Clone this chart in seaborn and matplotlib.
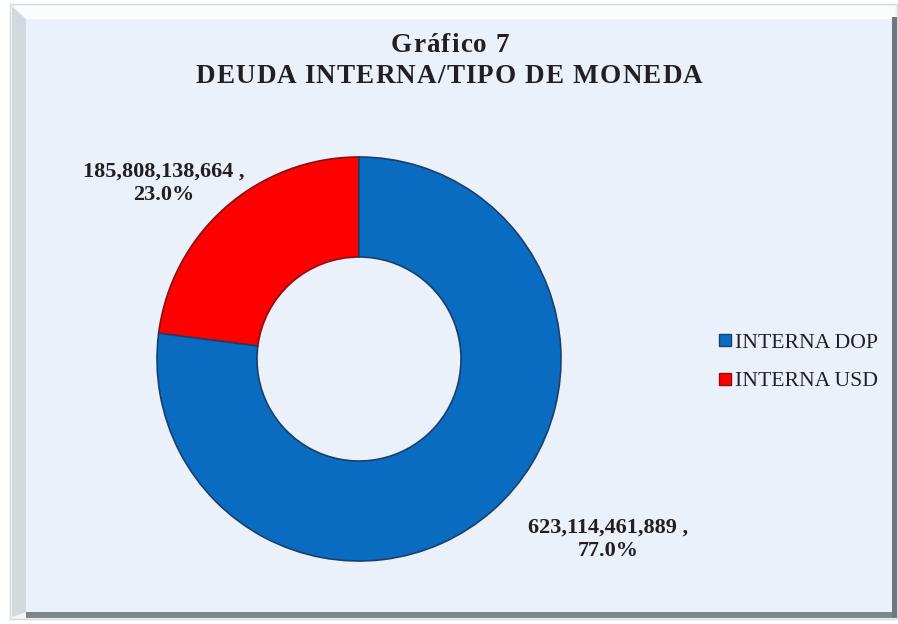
import matplotlib
matplotlib.use("Agg")
import matplotlib.pyplot as plt
from matplotlib.patches import Rectangle, Polygon
from matplotlib.lines import Line2D
from matplotlib.font_manager import FontProperties
import seaborn as sns

# Deuda interna por tipo de moneda
categories = ["INTERNA USD", "INTERNA DOP"]
values = [185808138664, 623114461889]
legend_order = ["INTERNA DOP", "INTERNA USD"]
title_lines = ["Gráfico 7", "DEUDA INTERNA/TIPO DE MONEDA"]

sns.set_theme(style="white")
plt.rcParams["font.family"] = ["Liberation Serif", "DejaVu Serif"]

W, H = 898, 624
fig = plt.figure(figsize=(W / 100, H / 100), dpi=100)
fig.patch.set_facecolor("white")
renderer = fig.canvas.get_renderer()


def fx(x):
    return x / W


def fy(y):
    return 1 - y / H


def rect(x0, y0, x1, y1, **kw):
    fig.add_artist(Rectangle((fx(x0), fy(y1)), fx(x1) - fx(x0), fy(y0) - fy(y1),
                             transform=fig.transFigure, zorder=-10, **kw))


def tracked_text(s, xc, y, size, spacing, **kw):
    """Draw a centred line of bold text with extra space between letters."""
    fp = FontProperties(family=["Liberation Serif"], weight="bold", size=size)
    ref = renderer.get_text_width_height_descent("|", fp, ismath=False)[0]
    offs = []
    for i in range(len(s)):
        w = renderer.get_text_width_height_descent(s[:i] + "|", fp, ismath=False)[0] - ref
        offs.append(w + i * spacing)
    total = renderer.get_text_width_height_descent(s, fp, ismath=False)[0] + (len(s) - 1) * spacing
    x0 = xc - total / 2
    for ch, o in zip(s, offs):
        if ch != " ":
            fig.text(fx(x0 + o), fy(y), ch, fontproperties=fp, ha="left", va="baseline", **kw)


# bevelled frame
rect(10, 4, 897, 619, facecolor="#F4F6F8", edgecolor="#D6DADE", linewidth=1.0)
fig.add_artist(Polygon([(fx(12), fy(6)), (fx(26), fy(19)), (fx(26), fy(612)), (fx(12), fy(617))],
                       closed=True, transform=fig.transFigure, facecolor="#D3D9DF",
                       edgecolor="none", zorder=-9))
rect(20, 19, 26, 612, facecolor="#A3ADB7", edgecolor="none")
rect(12, 6, 895, 19, facecolor="#FBFCFD", edgecolor="none")
rect(26, 612, 897, 618, facecolor="#7D858D", edgecolor="none")
rect(892, 17, 897, 618, facecolor="#6F7880", edgecolor="none")
rect(26, 19, 892, 612, facecolor="#EAF1FB", edgecolor="none")

ax = fig.add_axes([0, 0, 1, 1])
ax.patch.set_visible(False)

colors = {"INTERNA DOP": "#0A6CC0", "INTERNA USD": "#FF0000"}
edges = {"INTERNA DOP": "#1B3F6B", "INTERNA USD": "#8A0F0F"}

cx, cy, R = 359, H - 359, 202
wedges, _ = ax.pie(values, colors=[colors[c] for c in categories], startangle=90,
                   counterclock=True, radius=R, center=(cx, cy),
                   wedgeprops=dict(width=R * 0.495, linewidth=1.2))
for w, c in zip(wedges, categories):
    w.set_edgecolor(edges[c])
ax.set_xlim(0, W)
ax.set_ylim(0, H)
ax.set_aspect("equal")
ax.axis("off")

total = sum(values)
label_pos = {"INTERNA USD": (164, 183), "INTERNA DOP": (608, 539)}
for c, v in zip(categories, values):
    x, y = label_pos[c]
    ax.text(x, H - y, f"{v:,} ,\n{100 * v / total:.1f}%", ha="center", va="center",
            fontsize=16, fontweight="bold", color="#231F20", linespacing=1.2)

tracked_text(title_lines[0], 450, 52, 19.5, 1.2, color="#231F20")
tracked_text(title_lines[1], 449, 83, 19.5, 1.15, color="#231F20")

handles = [Line2D([], [], marker="s", linestyle="none", markersize=8,
                  markerfacecolor=colors[c], markeredgecolor=edges[c], label=c)
           for c in legend_order]
fig.legend(handles=handles, loc="center left", bbox_to_anchor=(fx(697), fy(362)),
           frameon=False, fontsize=15.6, handletextpad=0.05, labelspacing=0.85,
           handlelength=0.8, labelcolor="#231F20")

fig.savefig("out.png", dpi=100)
